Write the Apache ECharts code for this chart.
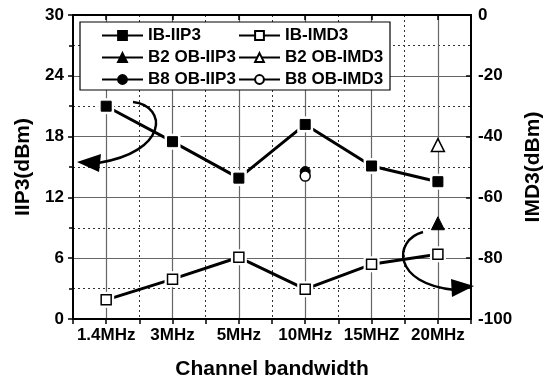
<!DOCTYPE html>
<html><head><meta charset="utf-8">
<script src="https://cdn.jsdelivr.net/npm/echarts@6/dist/echarts.min.js"></script>
<style>html,body{margin:0;padding:0;background:#fff}#c{width:552px;height:386px}</style>
</head><body><div id="c"></div>
<script>
const categories = ['1.4MHz','3MHz','5MHz','10MHz','15MHZ','20MHz'];
const ibIIP3 = [21.0, 17.5, 13.9, 19.2, 15.1, 13.55];
const ibIMD3 = [-93.7, -86.9, -79.7, -90.2, -82.0, -78.7];
const b2IIP3 = [null, null, null, null, null, 9.45];
const b2IMD3 = [null, null, null, null, null, -42.8];
const b8IIP3 = [null, null, null, 14.55, null, null];
const b8IMD3 = [null, null, null, -53.0, null, null];
const leftTicks = [0, 30, 6];
const rightTicks = [-100, 0, 20];

const F = '"Liberation Sans", Arial, sans-serif';
const lbl = {color:'#000', fontFamily:F, fontWeight:'bold', fontSize:17};
const chart = echarts.init(document.getElementById('c'), null, {renderer:'canvas'});

function mk(name, data, yi, symbol, filled, size){
  return {
    name, type:'line', data, xAxisIndex:1, yAxisIndex:yi, symbol, symbolSize:size,
    showAllSymbol:true, connectNulls:false, animation:false,
    lineStyle:{color:'#000', width:3},
    itemStyle: filled ? {color:'#000', borderColor:'#000', borderWidth:1}
                      : {color:'#fff', borderColor:'#000', borderWidth:1.5},
    z: 6
  };
}
function haloMark(data, yi){
  return {type:'line', data, xAxisIndex:1, yAxisIndex:yi, symbol:'rect', symbolSize:16,
    showAllSymbol:true, silent:true, lineStyle:{width:0, opacity:0},
    itemStyle:{color:'#fff', borderWidth:0}, z:7};
}
function topMark(data, yi, filled){
  return {type:'line', data, xAxisIndex:1, yAxisIndex:yi, symbol:'rect', symbolSize:10,
    showAllSymbol:true, silent:true, lineStyle:{width:0, opacity:0},
    itemStyle: filled ? {color:'#000', borderColor:'#000', borderWidth:1}
                      : {color:'#fff', borderColor:'#000', borderWidth:1.5}, z:8};
}

chart.setOption({
  animation:false,
  grid:{left:73, right:66, top:15, bottom:67},
  legend:[
    {orient:'vertical', left:101, top:27, padding:0, itemWidth:41, itemHeight:11, itemGap:5,
     textStyle:{...lbl, fontSize:17}, data:['IB-IIP3','B2 OB-IIP3','B8 OB-IIP3'],
     selectedMode:false, z:12},
    {orient:'vertical', left:238, top:27, padding:0, itemWidth:41, itemHeight:11, itemGap:5,
     textStyle:{...lbl, fontSize:17}, data:['IB-IMD3','B2 OB-IMD3','B8 OB-IMD3'],
     selectedMode:false, z:12}
  ],
  xAxis:[
    {type:'value', min:0.5, max:6.5, interval:1, position:'bottom',
     axisLine:{show:true, onZero:false, lineStyle:{color:'#000', width:2}},
     axisTick:{show:true, inside:false, length:5, lineStyle:{color:'#000', width:1.5}},
     minorTick:{show:true, splitNumber:2, length:5, lineStyle:{color:'#000', width:1.5}},
     axisLabel:{show:false},
     splitLine:{show:true, lineStyle:{color:'#333', type:[2,3], width:1}},
     minorSplitLine:{show:true, lineStyle:{color:'#666', width:1.2}}},
    {type:'category', data:categories, position:'bottom', boundaryGap:true,
     axisLine:{show:false}, axisTick:{show:false},
     axisLabel:{...lbl, margin:8, interval:0},
     splitLine:{show:false},
     name:'Channel bandwidth', nameLocation:'middle', nameGap:40,
     nameTextStyle:{...lbl, fontSize:21}},
    {type:'category', data:categories, position:'top', boundaryGap:true,
     axisLine:{show:true, onZero:false, lineStyle:{color:'#000', width:2}},
     axisTick:{show:true, inside:true, alignWithLabel:true, interval:0, length:5, lineStyle:{color:'#000', width:1.5}},
     axisLabel:{show:false}, splitLine:{show:false}}
  ],
  yAxis:[
    {type:'value', min:leftTicks[0], max:leftTicks[1], interval:leftTicks[2], position:'left',
     axisLine:{show:true, onZero:false, lineStyle:{color:'#000', width:2}},
     axisTick:{show:true, inside:false, length:5, lineStyle:{color:'#000', width:1.5}},
     minorTick:{show:true, splitNumber:2, length:4, lineStyle:{color:'#000', width:1.5}},
     axisLabel:{...lbl, margin:9},
     splitLine:{show:true, lineStyle:{color:'#666', width:1.2}},
     minorSplitLine:{show:true, lineStyle:{color:'#333', type:[2,3], width:1}},
     name:'IIP3(dBm)', nameLocation:'middle', nameGap:37, nameRotate:90,
     nameTextStyle:{...lbl, fontSize:21}},
    {type:'value', min:rightTicks[0], max:rightTicks[1], interval:rightTicks[2], position:'right',
     axisLine:{show:true, onZero:false, lineStyle:{color:'#000', width:2}},
     axisTick:{show:true, inside:true, length:5, lineStyle:{color:'#000', width:1.5}},
     axisLabel:{...lbl, margin:7},
     splitLine:{show:false},
     name:'IMD3(dBm)', nameLocation:'middle', nameGap:44, nameRotate:90,
     nameTextStyle:{...lbl, fontSize:21}}
  ],
  graphic:[
    {type:'rect', shape:{x:80, y:22, width:310, height:68}, style:{fill:'#fff', stroke:'#000', lineWidth:1.2}, z:10},
    {type:'bezierCurve', shape:{x1:133, y1:102, cpx1:168, cpy1:106, cpx2:168, cpy2:152, x2:98, y2:163}, style:{fill:null, stroke:'#000', lineWidth:2.5}, z:9},
    {type:'polygon', shape:{points:[[77,162],[101,154],[99,172]]}, style:{fill:'#000'}, z:9},
    {type:'bezierCurve', shape:{x1:423, y1:232, cpx1:393, cpy1:240, cpx2:392, cpy2:284, x2:455, y2:290}, style:{fill:null, stroke:'#000', lineWidth:2.5}, z:9},
    {type:'polygon', shape:{points:[[474,286],[451,279],[452,297]]}, style:{fill:'#000'}, z:9}
  ],
  series:[
    mk('IB-IIP3', ibIIP3, 0, 'rect', true, 10),
    mk('IB-IMD3', ibIMD3, 1, 'rect', false, 10),
    mk('B2 OB-IIP3', b2IIP3, 0, 'triangle', true, 13),
    mk('B2 OB-IMD3', b2IMD3, 1, 'triangle', false, 13),
    mk('B8 OB-IIP3', b8IIP3, 0, 'circle', true, 10),
    mk('B8 OB-IMD3', b8IMD3, 1, 'circle', false, 10),
    haloMark(ibIIP3, 0), haloMark(ibIMD3, 1),
    topMark(ibIIP3, 0, true), topMark(ibIMD3, 1, false)
  ]
});
</script></body></html>
